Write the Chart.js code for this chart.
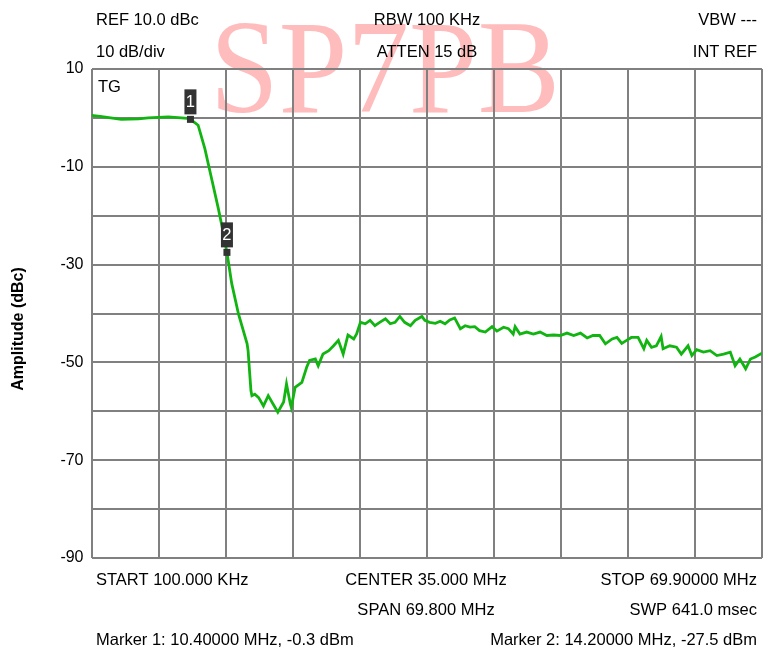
<!DOCTYPE html>
<html lang="en">
<head>
    <meta charset="UTF-8">
    <title>SP7PB filter sweep</title>
    <script src="https://cdn.jsdelivr.net/npm/chart.js"></script>
    <style>
        html, body { margin: 0; padding: 0; background: #fff; }
        #wrap { width: 775px; height: 665px; }
    </style>
</head>
<body>
    <div id="wrap"><canvas id="sweep" width="775" height="665"></canvas></div>

    <script>
        // trace: frequency (MHz) / level (dBc)
        const freqMHz = [0.1, 1.0, 3.2, 5.0, 6.0, 8.1, 10.1, 10.4, 11.2, 11.9, 12.6, 13.3, 13.8, 14.2, 14.7, 15.4,
            16.3, 16.4, 16.7, 16.8, 17.1, 17.5, 18.0, 18.5, 19.0, 19.5, 20.1, 20.4, 20.8, 20.9, 21.3, 22.0,
            22.5, 22.8, 23.4, 23.7, 24.2, 24.8, 25.3, 25.8, 26.3, 26.8, 27.4, 27.7, 28.1, 28.6, 29.1, 29.6,
            30.1, 30.7, 31.2, 31.7, 32.2, 32.7, 33.3, 33.8, 34.5, 34.8, 35.3, 35.9, 36.4, 36.9, 37.4, 37.9,
            38.5, 39.0, 39.5, 40.0, 40.5, 41.1, 41.8, 42.3, 43.0, 43.5, 44.0, 44.2, 44.7, 45.4, 46.1, 46.8,
            47.5, 48.2, 48.9, 49.6, 50.3, 51.0, 51.7, 52.3, 53.0, 53.6, 54.3, 54.8, 55.3, 55.8, 56.3, 57.0,
            57.6, 57.9, 58.4, 58.9, 59.4, 59.6, 60.3, 61.0, 61.5, 62.2, 62.6, 63.1, 63.8, 64.5, 65.2, 65.9,
            66.6, 67.1, 67.6, 68.2, 68.7, 69.2, 69.9];
        const levelDbc = [0.5, 0.3, -0.3, -0.2, 0.0, 0.2, -0.1, -0.3, -1.5, -6.3, -12.4, -18.5, -23.3, -27.5, -33.9, -40.1,
            -46.2, -47.6, -55.8, -56.8, -56.5, -57.2, -58.9, -56.8, -58.5, -60.2, -58.1, -54.4, -58.5, -59.2, -55.1, -54.1,
            -51.0, -49.6, -49.3, -50.7, -48.3, -47.6, -46.6, -45.5, -48.3, -44.4, -45.2, -44.2, -41.8, -42.1, -41.4, -42.5,
            -41.8, -41.1, -42.1, -41.8, -40.6, -41.8, -42.5, -41.4, -40.6, -41.4, -41.8, -42.0, -41.6, -42.1, -41.3, -40.9,
            -43.1, -42.5, -42.8, -42.7, -43.5, -43.8, -42.7, -43.6, -42.8, -43.1, -44.2, -42.7, -44.2, -43.8, -44.2, -43.8,
            -44.5, -44.4, -44.5, -44.0, -44.5, -44.0, -45.0, -44.5, -44.5, -46.2, -45.2, -44.9, -46.1, -45.5, -44.9, -44.9,
            -47.2, -45.5, -46.9, -46.6, -44.7, -47.2, -46.6, -46.9, -48.3, -46.6, -48.6, -47.4, -47.9, -47.6, -48.6, -48.3,
            -47.9, -50.7, -49.3, -51.3, -49.3, -48.9, -48.1];

        const markerFreqs = [10.4, 14.2];
        const markerLevels = [-0.3, -27.5];
        const yLabels = [10, -10, -30, -50, -70, -90];

        const startMHz = 0.1, stopMHz = 69.9;

        const TEXT = '#000';
        const FONT = '16.5px "Liberation Sans", Arial, sans-serif';

        const screenText = {
            id: 'screenText',
            beforeDraw(chart) {
                const ctx = chart.ctx;
                // watermark behind the graticule
                ctx.save();
                ctx.fillStyle = '#ffbcbc';
                ctx.font = '134px "Liberation Serif", "Times New Roman", serif';
                ctx.textBaseline = 'alphabetic';
                const w = ctx.measureText('SP7PB').width;
                ctx.translate(210, 112);
                ctx.scale(350 / w, 1);
                ctx.fillText('SP7PB', 0, 0);
                ctx.restore();
            },
            afterDraw(chart) {
                const ctx = chart.ctx;
                const x = chart.scales.x, y = chart.scales.y;
                ctx.save();
                ctx.fillStyle = TEXT;
                ctx.font = FONT;
                ctx.textBaseline = 'middle';

                ctx.textAlign = 'left';
                ctx.fillText('REF 10.0 dBc', 96, 20);
                ctx.fillText('10 dB/div', 96, 52);
                ctx.fillText('TG', 98, 87);
                ctx.fillText('START 100.000 KHz', 96, 580);
                ctx.fillText('Marker 1: 10.40000 MHz, -0.3 dBm', 96, 640);

                ctx.textAlign = 'center';
                ctx.fillText('RBW 100 KHz', 427, 20);
                ctx.fillText('ATTEN 15 dB', 427, 52);
                ctx.fillText('CENTER 35.000 MHz', 426, 580);
                ctx.fillText('SPAN 69.800 MHz', 426, 610);

                ctx.textAlign = 'right';
                ctx.fillText('VBW ---', 757, 20);
                ctx.fillText('INT REF', 757, 52);
                ctx.fillText('STOP 69.90000 MHz', 757, 580);
                ctx.fillText('SWP 641.0 msec', 757, 610);
                ctx.fillText('Marker 2: 14.20000 MHz, -27.5 dBm', 757, 640);

                // y axis title
                ctx.save();
                ctx.translate(19, 329);
                ctx.rotate(-Math.PI / 2);
                ctx.textAlign = 'center';
                ctx.font = 'bold 16px "Liberation Sans", Arial, sans-serif';
                ctx.fillText('Amplitude (dBc)', 0, 0);
                ctx.restore();

                // markers
                markerFreqs.forEach((f, i) => {
                    const px = x.getPixelForValue(f);
                    const py = y.getPixelForValue(markerLevels[i]);
                    ctx.fillStyle = '#333';
                    ctx.fillRect(px - 3.5, py - 3.5, 7, 7);
                    ctx.fillRect(px - 6, py - 30, 12, 25);
                    ctx.fillStyle = '#fff';
                    ctx.textAlign = 'center';
                    ctx.fillText(String(i + 1), px, py - 17);
                });
                ctx.restore();
            }
        };

        const ctx = document.getElementById('sweep').getContext('2d');
        new Chart(ctx, {
            type: 'line',
            data: {
                datasets: [{
                    data: freqMHz.map((f, i) => ({ x: f, y: levelDbc[i] })),
                    borderColor: '#12b412',
                    borderWidth: 2.8,
                    pointRadius: 0,
                    tension: 0,
                    fill: false
                }]
            },
            options: {
                responsive: false,
                animation: false,
                events: [],
                layout: { padding: { top: 69, right: 13, bottom: 107, left: 0 } },
                plugins: { legend: { display: false }, tooltip: { enabled: false } },
                scales: {
                    x: {
                        type: 'linear',
                        min: startMHz,
                        max: stopMHz,
                        afterBuildTicks(scale) {
                            const ticks = [];
                            for (let i = 0; i <= 10; i++) ticks.push({ value: startMHz + i * (stopMHz - startMHz) / 10 });
                            scale.ticks = ticks;
                        },
                        afterFit(scale) { scale.height = 0; },
                        ticks: { display: false },
                        grid: { color: '#808080', lineWidth: 2, drawTicks: false },
                        border: { display: false }
                    },
                    y: {
                        min: -90,
                        max: 10,
                        afterFit(scale) { scale.width = 91.5; },
                        ticks: {
                            stepSize: 10,
                            color: TEXT,
                            padding: 8,
                            font: { family: '"Liberation Sans", Arial, sans-serif', size: 16 },
                            callback: v => yLabels.includes(v) ? String(v) : ''
                        },
                        grid: { color: '#808080', lineWidth: 2, drawTicks: false },
                        border: { display: false }
                    }
                }
            },
            plugins: [screenText]
        });
    </script>
</body>
</html>
